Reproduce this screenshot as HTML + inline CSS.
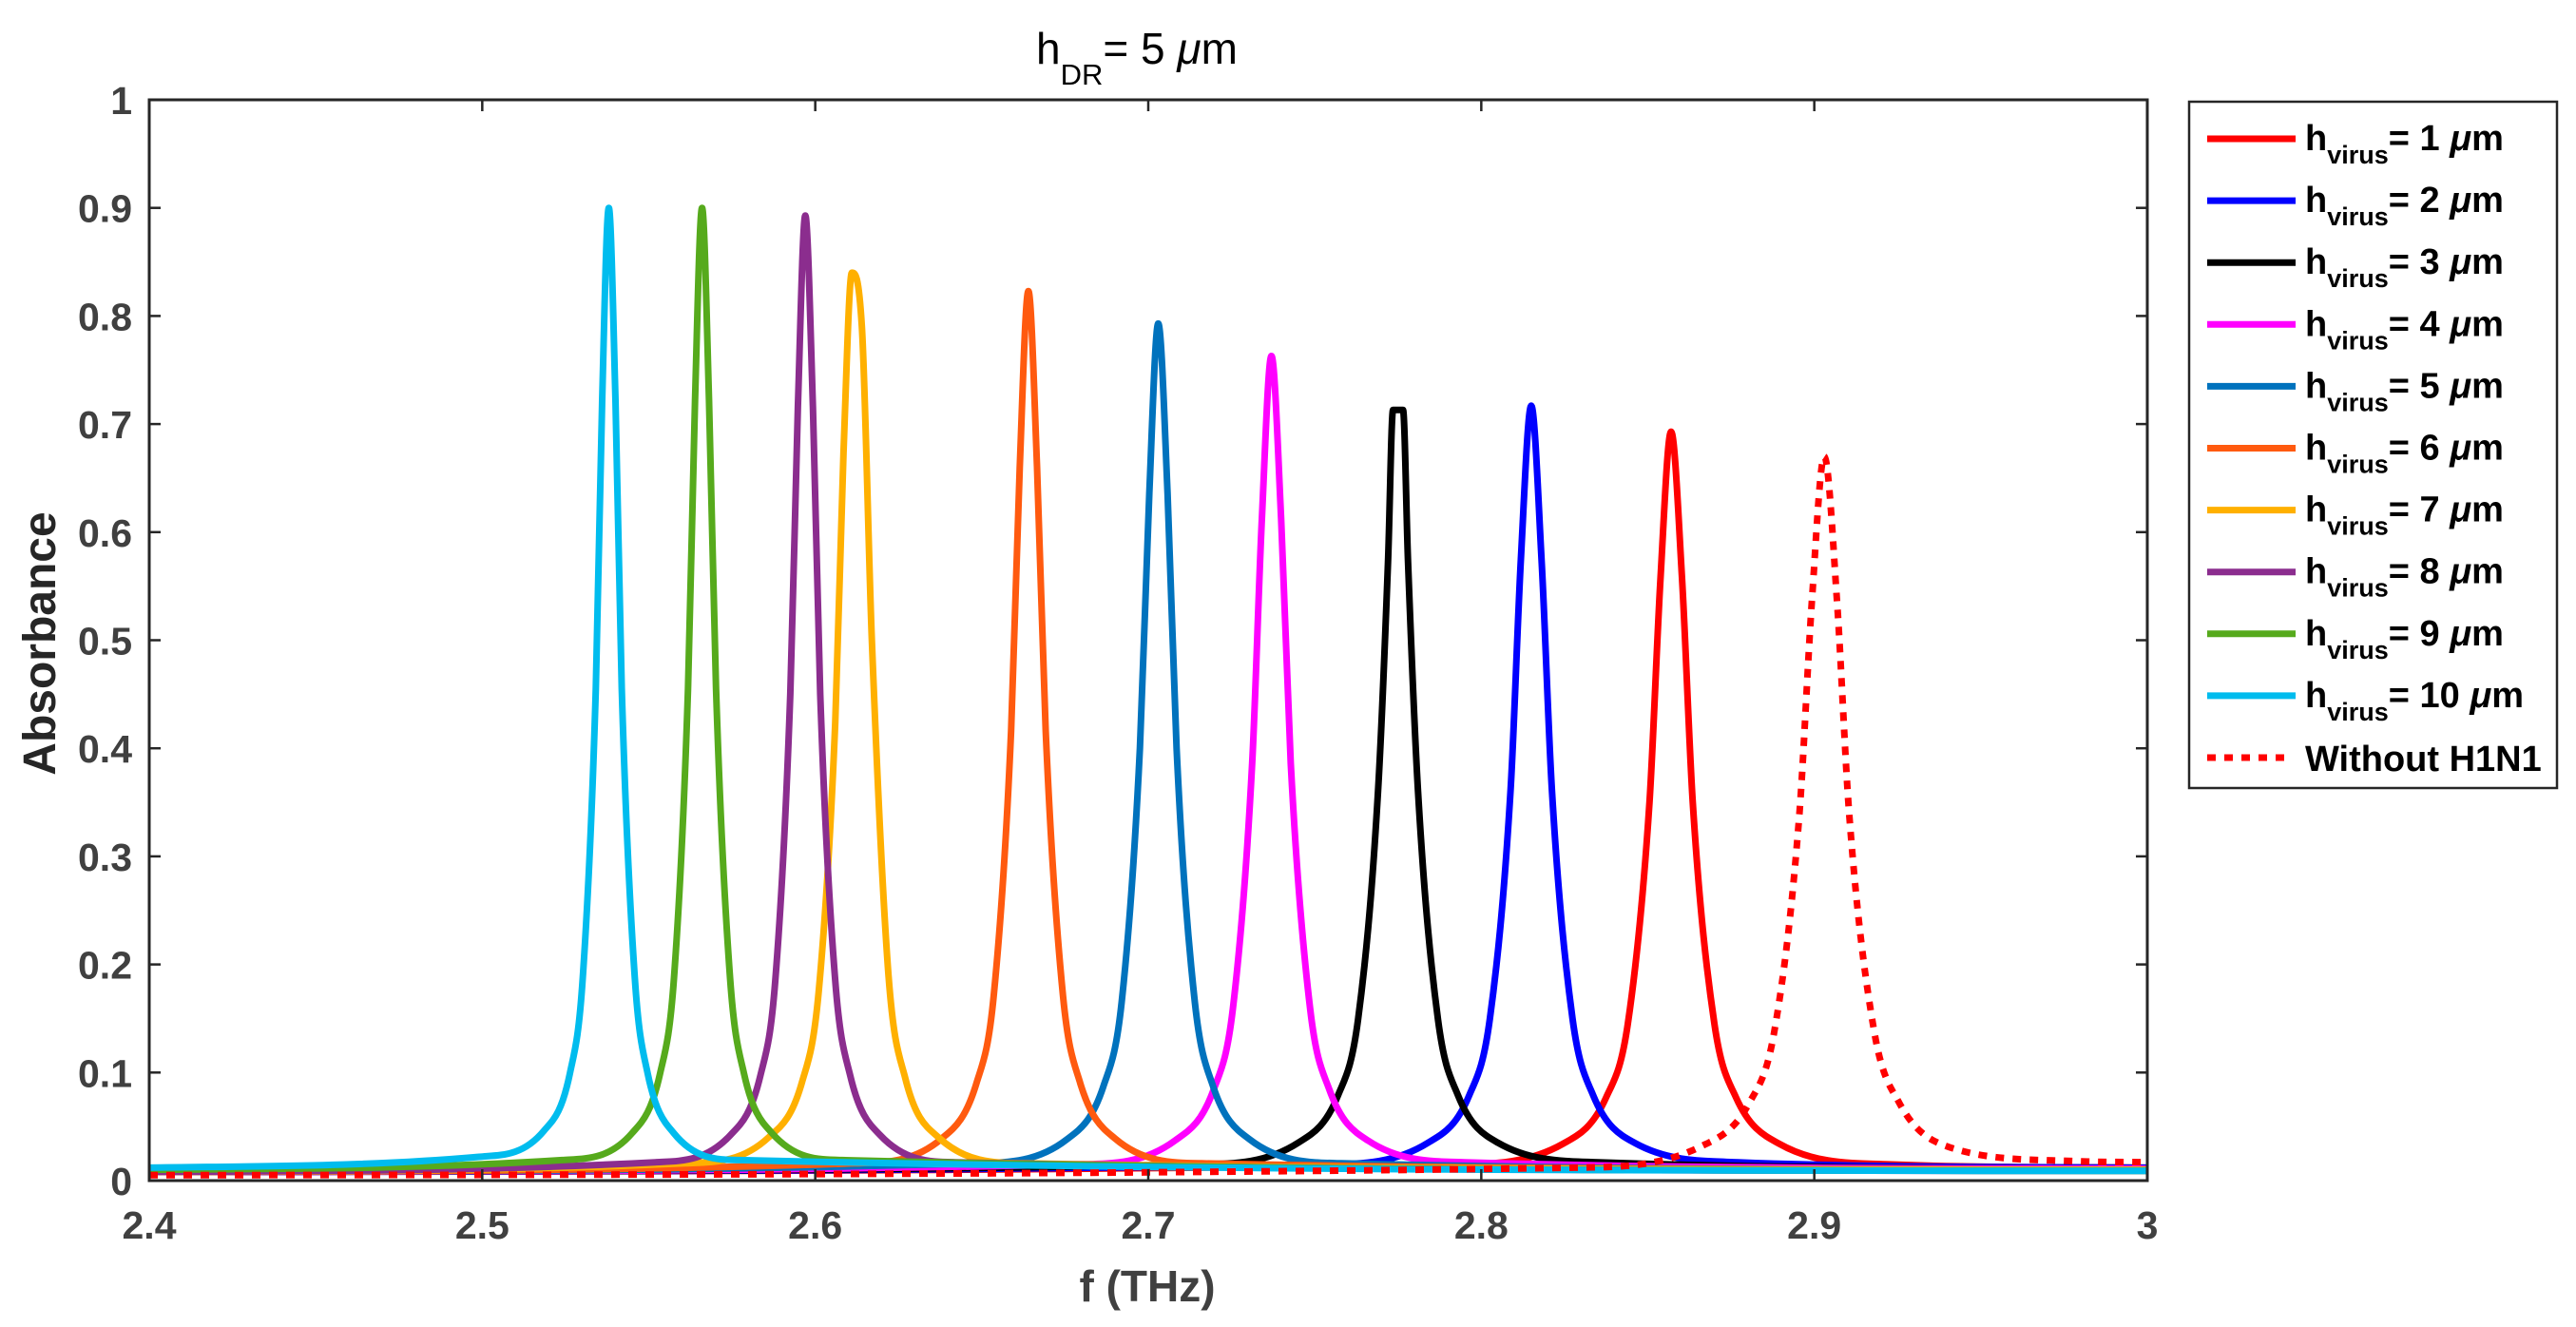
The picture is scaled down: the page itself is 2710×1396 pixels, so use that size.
<!DOCTYPE html>
<html><head><meta charset="utf-8"><style>
html,body{margin:0;padding:0;background:#fff}
svg{display:block}
</style></head><body>
<svg id="chart" width="2710" height="1396" xmlns="http://www.w3.org/2000/svg" font-family="Liberation Sans, Arial, sans-serif">
<rect width="2710" height="1396" fill="#fff"/>
<text x="1090" y="67" font-size="46" fill="#000">h<tspan font-size="31" dy="22">DR</tspan><tspan dy="-22">= 5 </tspan><tspan font-style="italic">μ</tspan>m</text>
<g id="plot"></g>
<g id="axes"></g>
<text x="1207" y="1369" font-size="46" font-weight="bold" fill="#404040" text-anchor="middle">f (THz)</text>
<text transform="translate(58,677) rotate(-90)" font-size="48" font-weight="bold" fill="#262626" text-anchor="middle">Absorbance</text>
<g id="legend"></g>
</svg>
<script>
const xTicks=[2.4,2.5,2.6,2.7,2.8,2.9,3.0];
const xTickLabels=["2.4","2.5","2.6","2.7","2.8","2.9","3"];
const yTicks=[0,0.1,0.2,0.3,0.4,0.5,0.6,0.7,0.8,0.9,1];
const yTickLabels=["0","0.1","0.2","0.3","0.4","0.5","0.6","0.7","0.8","0.9","1"];
const seriesNames=["1","2","3","4","5","6","7","8","9","10","Without H1N1"];
const seriesColors=["#FF0000","#0000FF","#000000","#FF00FF","#0072BD","#FF5A0F","#FFB000","#8B2D8E","#56AA1C","#00BCEE","#FF0000"];
const f1=[2.4,2.792,2.8245,2.8375,2.844,2.8505,2.8538,2.857,2.8603,2.8635,2.87,2.8765,2.8895,2.922,3.0];
const a1=[0.008,0.015,0.034,0.077,0.145,0.35,0.556,0.693,0.556,0.35,0.145,0.077,0.034,0.015,0.012];
const f2=[2.4,2.753,2.784,2.7964,2.8026,2.8088,2.8119,2.815,2.8181,2.8212,2.8274,2.8336,2.846,2.877,3.0];
const a2=[0.008,0.015,0.035,0.079,0.15,0.362,0.575,0.717,0.575,0.362,0.15,0.079,0.035,0.017,0.012];
const f3=[2.4,2.715,2.745,2.757,2.763,2.769,2.772,2.7735,2.7765,2.778,2.781,2.787,2.793,2.805,2.835,3.0];
const a3=[0.008,0.015,0.035,0.079,0.149,0.36,0.572,0.713,0.713,0.572,0.36,0.149,0.079,0.035,0.017,0.011];
const f4=[2.4,2.679,2.708,2.7196,2.7254,2.7312,2.7341,2.737,2.7399,2.7428,2.7486,2.7544,2.766,2.795,3.0];
const a4=[0.008,0.015,0.037,0.084,0.159,0.386,0.612,0.763,0.612,0.386,0.159,0.084,0.037,0.017,0.011];
const f5=[2.4,2.648,2.6755,2.6865,2.692,2.6975,2.7003,2.703,2.7058,2.7085,2.714,2.7195,2.7305,2.758,3.0];
const a5=[0.008,0.016,0.038,0.087,0.165,0.40,0.636,0.793,0.636,0.40,0.165,0.087,0.038,0.016,0.010];
const f6=[2.4,2.612,2.638,2.6484,2.6536,2.6588,2.6614,2.664,2.6666,2.6692,2.6744,2.6796,2.69,2.716,3.0];
const a6=[0.008,0.016,0.039,0.09,0.171,0.416,0.66,0.823,0.66,0.416,0.171,0.09,0.039,0.016,0.010];
const f7=[2.4,2.561,2.586,2.596,2.601,2.606,2.6085,2.611,2.614,2.617,2.622,2.627,2.637,2.662,3.0];
const a7=[0.008,0.016,0.04,0.091,0.174,0.424,0.674,0.84,0.79,0.50,0.19,0.095,0.04,0.016,0.010];
const f8=[2.4,2.552,2.5745,2.5835,2.588,2.5925,2.5948,2.597,2.5993,2.6015,2.606,2.6105,2.6195,2.642,3.0];
const a8=[0.008,0.017,0.042,0.097,0.185,0.45,0.716,0.893,0.716,0.45,0.185,0.097,0.042,0.017,0.009];
const f9=[2.4,2.524,2.545,2.5534,2.5576,2.5618,2.5639,2.566,2.5681,2.5702,2.5744,2.5786,2.587,2.608,3.0];
const a9=[0.01,0.019,0.044,0.099,0.188,0.455,0.722,0.90,0.722,0.455,0.188,0.099,0.044,0.019,0.009];
const f10=[2.4,2.499,2.5185,2.5263,2.5302,2.5341,2.536,2.538,2.540,2.5419,2.5458,2.5497,2.5575,2.577,3.0];
const a10=[0.012,0.022,0.046,0.099,0.188,0.455,0.722,0.90,0.722,0.455,0.188,0.099,0.044,0.019,0.009];
const f11=[2.4,2.828,2.8655,2.8805,2.888,2.8955,2.8993,2.903,2.9068,2.9105,2.918,2.9255,2.9405,2.978,3.0];
const a11=[0.005,0.012,0.031,0.072,0.138,0.338,0.537,0.67,0.537,0.338,0.138,0.072,0.031,0.018,0.017];
const seriesF=[f1,f2,f3,f4,f5,f6,f7,f8,f9,f10,f11];
const seriesA=[a1,a2,a3,a4,a5,a6,a7,a8,a9,a10,a11];

const NS="http://www.w3.org/2000/svg";
const X0=157,X1=2259,Y0=1242,Y1=105;
function xs(v){return X0+(v-2.4)/(3.0-2.4)*(X1-X0);}
function ys(v){return Y0-(v-0)/(1-0)*(Y0-Y1);}
function mk(tag,attrs,parent){const e=document.createElementNS(NS,tag);for(const k in attrs)e.setAttribute(k,attrs[k]);parent.appendChild(e);return e;}

function monoPath(px,py){
  const n=px.length;const d=[],m=new Array(n);
  for(let i=0;i<n-1;i++)d.push((py[i+1]-py[i])/(px[i+1]-px[i]));
  m[0]=d[0];m[n-1]=d[n-2];
  for(let i=1;i<n-1;i++){if(d[i-1]*d[i]<=0)m[i]=0;else m[i]=(d[i-1]+d[i])/2;}
  for(let i=0;i<n-1;i++){if(d[i]===0){m[i]=0;m[i+1]=0;continue;}const a=m[i]/d[i],b=m[i+1]/d[i],s=a*a+b*b;if(s>9){const t=3/Math.sqrt(s);m[i]=t*a*d[i];m[i+1]=t*b*d[i];}}
  let p="M"+px[0].toFixed(1)+","+py[0].toFixed(1);
  for(let i=0;i<n-1;i++){const h=(px[i+1]-px[i])/3;p+=" C"+(px[i]+h).toFixed(1)+","+(py[i]+m[i]*h).toFixed(1)+" "+(px[i+1]-h).toFixed(1)+","+(py[i+1]-m[i+1]*h).toFixed(1)+" "+px[i+1].toFixed(1)+","+py[i+1].toFixed(1);}
  return p;
}

const plot=document.getElementById('plot');
mk('defs',{},plot).innerHTML='<clipPath id="clip"><rect x="'+X0+'" y="'+Y1+'" width="'+(X1-X0)+'" height="'+(Y0-Y1)+'"/></clipPath>';
const g=mk('g',{'clip-path':'url(#clip)'},plot);
for(let s=0;s<seriesF.length;s++){
  const px=seriesF[s].map(xs),py=seriesA[s].map(ys);
  const el=mk('path',{d:monoPath(px,py),fill:'none',stroke:seriesColors[s],'stroke-width':7,'stroke-linejoin':'round'},g);
  
  
  if(s===10)el.setAttribute('stroke-dasharray','9,9');
}

const axes=document.getElementById('axes');
const frame=mk('rect',{x:X0,y:Y1,width:X1-X0,height:Y0-Y1,fill:'none',stroke:'#262626','stroke-width':3},axes);


for(let i=0;i<xTicks.length;i++){
  const x=xs(xTicks[i]);
  mk('line',{x1:x,y1:Y0,x2:x,y2:Y0-12,stroke:'#262626','stroke-width':2.5},axes);
  mk('line',{x1:x,y1:Y1,x2:x,y2:Y1+12,stroke:'#262626','stroke-width':2.5},axes);
  const t=mk('text',{x:x,y:1303,'font-size':41,'font-weight':'bold',fill:'#404040','text-anchor':'middle'},axes);
  t.textContent=xTickLabels[i];
  
  
}
for(let i=0;i<yTicks.length;i++){
  const y=ys(yTicks[i]);
  mk('line',{x1:X0,y1:y,x2:X0+12,y2:y,stroke:'#262626','stroke-width':2.5},axes);
  mk('line',{x1:X1,y1:y,x2:X1-12,y2:y,stroke:'#262626','stroke-width':2.5},axes);
  const t=mk('text',{x:139,y:y+15,'font-size':41,'font-weight':'bold',fill:'#404040','text-anchor':'end'},axes);
  t.textContent=yTickLabels[i];
  
  
}

const leg=document.getElementById('legend');
mk('rect',{x:2303,y:107,width:387,height:722,fill:'#fff',stroke:'#262626','stroke-width':2.5},leg);
for(let i=0;i<seriesNames.length;i++){
  const y=146+65.1*i;
  const entry=mk('g',{},leg);
  
  
  const ln=mk('line',{x1:2322,y1:y,x2:2415,y2:y,stroke:seriesColors[i],'stroke-width':7},entry);
  if(i===10){ln.setAttribute('stroke-dasharray','9,9');ln.setAttribute('x2','2408');}
  const t=mk('text',{x:2425,y:y+12,'font-size':38,'font-weight':'bold',fill:'#000'},entry);
  if(i<10){
    t.innerHTML='h<tspan font-size="27" dy="14">virus</tspan><tspan dy="-14">= '+seriesNames[i]+' </tspan><tspan font-style="italic">μ</tspan>m';
  } else {
    t.setAttribute('y',y+14);
    t.textContent=seriesNames[i];
  }
}
</script>
</body></html>
